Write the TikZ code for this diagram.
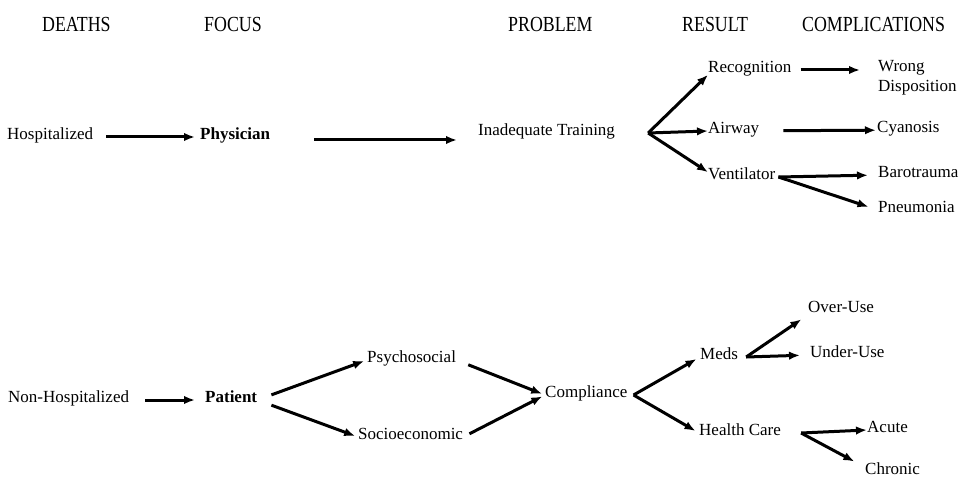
\documentclass[tikz,border=0pt]{standalone}
\usepackage{fontspec}
\setmainfont{Liberation Serif}
\usepackage{graphicx}
\usetikzlibrary{arrows.meta, positioning}

\newcommand{\colhead}[1]{\scalebox{0.83}[1]{#1}}

\begin{document}
\begin{tikzpicture}[
  x=1pt, y=1pt,
  heading/.style={anchor=west, inner sep=0pt, font=\fontsize{21.5}{24}\selectfont},
  entry/.style={anchor=west, inner sep=0pt, text height=0.7em, text depth=0.22em, font=\fontsize{17}{20}\selectfont},
  focus/.style={entry, font=\fontsize{17}{20}\selectfont\bfseries},
  arrow/.style={-{Latex[length=11pt,width=8.5pt]}, line width=3pt}
]
  \useasboundingbox (0,0) rectangle (971,-481);

  \node[heading] (hdeaths) at (42,-24) {\colhead{DEATHS}};
  \node[heading] (hfocus) at (204,-24) {\colhead{FOCUS}};
  \node[heading] (hproblem) at (508,-24) {\colhead{PROBLEM}};
  \node[heading] (hresult) at (682,-24) {\colhead{RESULT}};
  \node[heading] (hcompl) at (802,-24) {\colhead{COMPLICATIONS}};

  \node[entry] (hosp) at (7,-137) {Hospitalized};
  \node[focus] (phys) at (200,-137) {Physician};
  \node[entry] (train) at (478,-133) {Inadequate Training};
  \coordinate[right=33pt of train] (tfork);
  \node[entry] (recog) at (708,-70) {Recognition};
  \node[entry] (airway) at (708,-131) {Airway};
  \node[entry] (vent) at (708,-177) {Ventilator};
  \coordinate[right=3pt of vent] (vfork);
  \node[anchor=west, inner sep=0pt, align=left, font=\fontsize{17}{20}\selectfont] (wrong) at (878,-78) {Wrong\\Disposition};
  \node[entry] (cyan) at (877,-130) {Cyanosis};
  \node[entry] (baro) at (878,-175) {Barotrauma};
  \node[entry] (pneu) at (878,-210) {Pneumonia};

  \draw[arrow, shorten <=13pt, shorten >=5pt] (hosp) -- (phys);
  \draw[arrow, shorten <=44pt, shorten >=21pt] ([yshift=-3pt]phys.east) -- ([yshift=-3pt]phys.east -| train.west);
  \draw[arrow] (tfork) -- (recog.south west);
  \draw[arrow] (tfork) -- (airway.west);
  \draw[arrow] (tfork) -- (vent.north west);
  \draw[arrow, shorten <=9pt, shorten >=18pt] (recog.east) -- (recog.east -| wrong.west);
  \draw[arrow, shorten <=24pt, shorten >=1pt] (airway) -- (cyan);
  \draw[arrow, shorten >=10pt] (vfork) -- (baro.west);
  \draw[arrow, shorten >=10pt] (vfork) -- (pneu.west);

  \node[entry] (nonhosp) at (8,-400) {Non-Hospitalized};
  \node[focus] (patient) at (205,-400) {Patient};
  \node[entry] (psycho) at (367,-360) {Psychosocial};
  \node[entry] (socio) at (358,-437) {Socioeconomic};
  \node[entry] (compl) at (545,-395) {Compliance};
  \coordinate[right=6pt of compl] (cfork);
  \node[entry] (meds) at (700,-357) {Meds};
  \coordinate[right=8pt of meds] (mfork);
  \node[entry] (care) at (699,-433) {Health Care};
  \coordinate[right=20pt of care] (hfork);
  \node[entry] (over) at (808,-310) {Over-Use};
  \node[entry] (under) at (810,-355) {Under-Use};
  \node[entry] (acute) at (867,-430) {Acute};
  \node[entry] (chronic) at (865,-472) {Chronic};

  \draw[arrow, shorten <=16pt, shorten >=10pt] (nonhosp) -- (patient);
  \draw[arrow, shorten <=15pt, shorten >=3pt] (patient.east) -- (psycho.west);
  \draw[arrow, shorten <=15pt, shorten >=3pt] (patient.east) -- (socio.west);
  \draw[arrow, shorten <=13pt, shorten >=3pt] (psycho.east) -- (compl.west);
  \draw[arrow, shorten <=7pt, shorten >=3pt] (socio.east) -- (compl.west);
  \draw[arrow, shorten >=4pt] (cfork) -- (meds.west);
  \draw[arrow, shorten >=4pt] (cfork) -- (care.west);
  \draw[arrow, shorten >=8pt] (mfork) -- (over.south west);
  \draw[arrow, shorten >=10pt] (mfork) -- (under.west);
  \draw[arrow] (hfork) -- (acute.west);
  \draw[arrow, shorten >=12pt] (hfork) -- (chronic.north west);
\end{tikzpicture}
\end{document}
